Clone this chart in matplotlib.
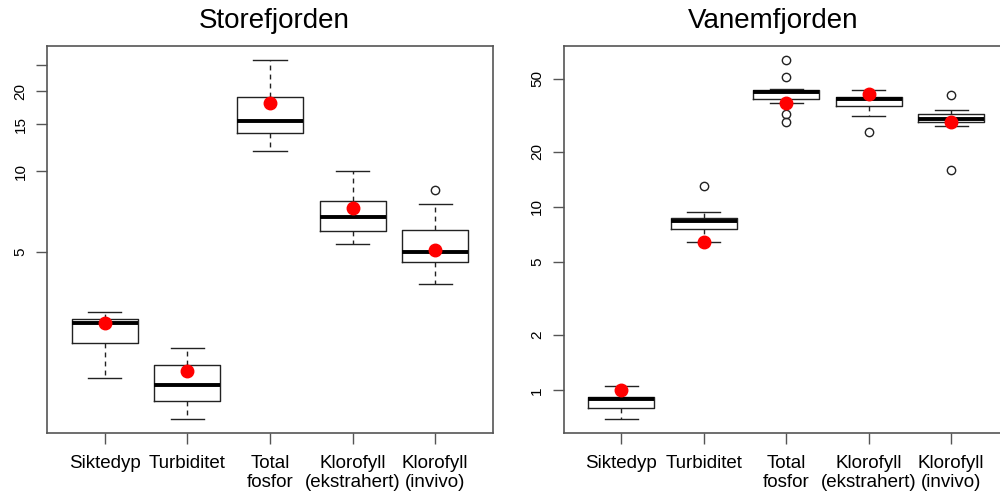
import matplotlib
matplotlib.use("Agg")
import numpy as np
from matplotlib import pyplot as plt

plt.rcParams['font.family'] = ['Liberation Sans', 'DejaVu Sans']

# Categories
labels = ['Siktedyp', 'Turbiditet', 'Total\nfosfor', 'Klorofyll\n(ekstrahert)', 'Klorofyll\n(invivo)']

# Storefjorden
store_whislo = [1.68, 1.18, 11.96, 5.36, 3.78]
store_q1 = [2.28, 1.38, 13.97, 5.98, 4.59]
store_med = [2.69, 1.58, 15.5, 6.75, 4.99]
store_q3 = [2.79, 1.88, 19.07, 7.73, 6.05]
store_whishi = [2.98, 2.18, 26.2, 10.0, 7.55]
store_mean = [2.69, 1.78, 18.05, 7.29, 5.07]
store_fliers = [[], [], [], [], [8.54]]

# Vanemfjorden
vanem_whislo = [0.697, 6.48, 37.1, 31.4, 27.6]
vanem_q1 = [0.798, 7.62, 39.0, 35.4, 29.1]
vanem_med = [0.90, 8.35, 42.3, 39.0, 30.0]
vanem_q3 = [0.916, 8.75, 43.3, 39.8, 32.3]
vanem_whishi = [1.05, 9.35, 44.2, 43.3, 33.8]
vanem_mean = [1.0, 6.48, 37.1, 41.4, 29.0]
vanem_fliers = [[], [12.97], [63.1, 51.2, 32.0, 29.0], [25.5], [41.0, 16.0]]

store_ticks = [5, 10, 15, 20, 25]
store_ticklabels = ['5', '10', '15', '20', '']
vanem_ticks = [1, 2, 5, 10, 20, 50]
vanem_ticklabels = ['1', '2', '5', '10', '20', '50']


def make_stats(whislo, q1, med, q3, whishi, fliers):
    stats = []
    for i in range(len(med)):
        stats.append({'whislo': whislo[i], 'q1': q1[i], 'med': med[i],
                      'q3': q3[i], 'whishi': whishi[i], 'fliers': fliers[i]})
    return stats


def draw_panel(ax, stats, means, title, ylim, ticks, ticklabels, title_x):
    pos = np.arange(1, len(stats) + 1)
    ax.bxp(stats, positions=pos, widths=0.8, capwidths=0.4, showmeans=False,
           boxprops=dict(color='#222222', linewidth=1.0),
           medianprops=dict(color='black', linewidth=2.8, solid_capstyle='butt'),
           whiskerprops=dict(color='#222222', linewidth=1.0, linestyle=(0, (3.5, 3))),
           capprops=dict(color='#222222', linewidth=1.0),
           flierprops=dict(marker='o', markerfacecolor='none', markeredgecolor='#222222',
                           markersize=6, markeredgewidth=1.0))
    ax.plot(pos, means, 'o', color='#ff0000', markersize=9, zorder=5)
    ax.set_yscale('log')
    ax.set_ylim(ylim)
    ax.set_xlim(0.3, 5.7)
    ax.set_yticks(ticks)
    ax.set_yticklabels(ticklabels, rotation=90, va='center', fontsize=11)
    ax.yaxis.set_minor_locator(matplotlib.ticker.NullLocator())
    ax.set_xticks(pos)
    ax.set_xticklabels(labels, fontsize=13.5, linespacing=1.15)
    ax.tick_params(axis='both', direction='out', length=8, color='#555555', width=1.0)
    ax.tick_params(axis='y', pad=6)
    ax.tick_params(axis='x', pad=8)
    for s in ax.spines.values():
        s.set_color('#555555')
        s.set_linewidth(1.2)
    ax.set_title(title, fontsize=20, pad=13, x=title_x)


fig = plt.figure(figsize=(10, 5), dpi=100)
ax1 = fig.add_axes([0.047, 0.134, 0.446, 0.774])
ax2 = fig.add_axes([0.5635, 0.134, 0.4455, 0.774])

draw_panel(ax1, make_stats(store_whislo, store_q1, store_med, store_q3, store_whishi, store_fliers),
           store_mean, 'Storefjorden', (1.045, 29.5), store_ticks, store_ticklabels, 0.509)
draw_panel(ax2, make_stats(vanem_whislo, vanem_q1, vanem_med, vanem_q3, vanem_whishi, vanem_fliers),
           vanem_mean, 'Vanemfjorden', (0.585, 75.5), vanem_ticks, vanem_ticklabels, 0.471)

fig.savefig('out.png', dpi=100)
